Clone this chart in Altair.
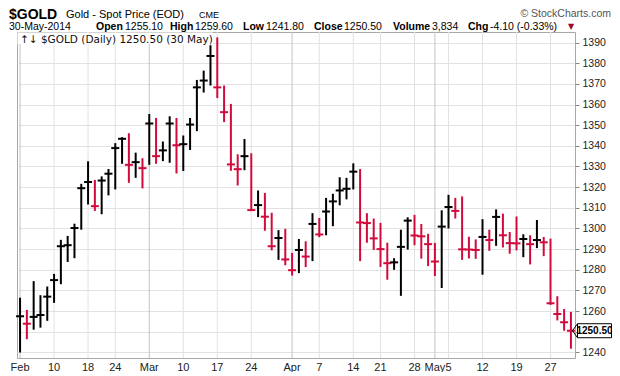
import altair as alt
import pandas as pd

# ---------------- data ----------------
holidays = ["2014-02-17", "2014-04-18", "2014-05-26"]
dates = [d for d in pd.bdate_range("2014-02-03", "2014-05-30").strftime("%Y-%m-%d") if d not in holidays]

highs = [1266.5, 1260.6, 1274.5, 1267.7, 1271.9, 1278.0, 1294.5, 1296.4, 1302.3, 1321.6,
         1332.5, 1323.5, 1325.2, 1328.8, 1341.3, 1344.2, 1346.1, 1336.7, 1334.0, 1355.4,
         1353.5, 1342.1, 1354.3, 1353.5, 1345.0, 1353.5, 1371.9, 1376.4, 1388.7, 1392.5,
         1369.2, 1360.3, 1335.9, 1343.3, 1336.4, 1318.4, 1317.2, 1307.6, 1299.2, 1299.8,
         1288.2, 1294.9, 1293.8, 1307.4, 1305.1, 1314.8, 1316.8, 1324.8, 1324.5, 1331.5,
         1328.8, 1307.4, 1304.8, 1302.7, 1293.1, 1285.6, 1299.4, 1305.4, 1306.6, 1302.2,
         1297.4, 1293.0, 1308.8, 1316.3, 1314.8, 1315.5, 1296.0, 1294.7, 1304.5, 1299.4,
         1309.2, 1307.2, 1298.3, 1305.8, 1297.2, 1296.7, 1304.1, 1295.9, 1295.1, 1267.2,
         1261.0, 1259.6]
lows = [1240.0, 1246.4, 1251.0, 1252.0, 1255.3, 1264.0, 1273.0, 1283.8, 1285.6, 1299.4,
        1311.6, 1308.5, 1306.9, 1316.0, 1318.9, 1331.3, 1322.1, 1324.5, 1319.4, 1330.8,
        1331.3, 1332.6, 1331.8, 1326.6, 1327.8, 1338.0, 1347.1, 1365.8, 1369.2, 1363.1,
        1351.5, 1327.9, 1320.8, 1328.2, 1308.4, 1305.5, 1298.9, 1289.4, 1284.8, 1282.2,
        1277.2, 1278.4, 1281.3, 1284.2, 1295.8, 1296.7, 1301.1, 1311.2, 1314.1, 1318.9,
        1284.2, 1293.1, 1289.6, 1281.4, 1275.2, 1280.0, 1267.4, 1289.8, 1291.9, 1285.4,
        1281.8, 1277.0, 1271.2, 1300.0, 1304.8, 1284.8, 1285.5, 1285.3, 1277.6, 1289.2,
        1291.6, 1290.8, 1287.8, 1289.4, 1286.1, 1282.6, 1290.5, 1286.6, 1263.0, 1255.5,
        1250.5, 1241.8]
closes = [1257.5, 1253.9, 1257.2, 1258.1, 1267.0, 1275.0, 1291.4, 1291.9, 1300.2, 1319.5,
          1322.5, 1310.8, 1323.2, 1326.5, 1338.9, 1343.4, 1330.8, 1332.1, 1329.2, 1350.8,
          1335.0, 1337.8, 1350.8, 1340.3, 1340.8, 1350.3, 1368.3, 1371.6, 1383.5, 1368.3,
          1356.3, 1331.0, 1328.7, 1335.0, 1308.9, 1311.3, 1305.7, 1291.4, 1295.4, 1285.0,
          1279.8, 1289.6, 1286.4, 1302.2, 1297.1, 1308.2, 1313.1, 1318.4, 1319.2, 1327.5,
          1302.9, 1302.6, 1295.2, 1290.0, 1283.2, 1283.6, 1291.1, 1303.8, 1296.6, 1296.2,
          1292.4, 1284.0, 1300.9, 1310.4, 1308.5, 1289.9, 1289.8, 1289.6, 1295.9, 1294.4,
          1305.6, 1296.7, 1292.9, 1292.8, 1294.9, 1292.4, 1294.4, 1293.3, 1263.8, 1258.6,
          1254.6, 1250.5]

tick_dates = ["2014-02-03", "2014-02-10", "2014-02-18", "2014-02-24", "2014-03-03", "2014-03-10",
              "2014-03-17", "2014-03-24", "2014-04-01", "2014-04-07", "2014-04-14", "2014-04-21",
              "2014-04-28", "2014-05-01", "2014-05-05", "2014-05-12", "2014-05-19", "2014-05-27"]
tick_labels = ["Feb", "10", "18", "24", "Mar", "10", "17", "24", "Apr", "7", "14", "21",
               "28", "May", "5", "12", "19", "27"]
month_labels = ["Feb", "Mar", "Apr", "May"]
y_ticks = list(range(1240, 1391, 10))

header_labels = ["Open", "High", "Low", "Close", "Volume", "Chg"]
header_values = ["1255.10", "1259.60", "1241.80", "1250.50", "3,834", "-4.10 (-0.33%)"]
last_date = "30-May-2014"
last_close = "1250.50"

# ---------------- frames ----------------
df = pd.DataFrame({"i": range(len(dates)), "date": dates, "high": highs, "low": lows, "close": closes})
prev = [None] + closes[:-1]
df["dir"] = ["up" if p is None or c >= p else "down" for c, p in zip(closes, prev)]

tdf = pd.DataFrame({"i": [dates.index(d) for d in tick_dates], "label": tick_labels})
tdf["kind"] = ["month" if l in month_labels else "week" for l in tick_labels]

W, H = 558, 326
RED = "#d20a3c"
FONT = "Liberation Sans"
xs = alt.Scale(domain=[-0.45, 81.6], nice=False, zero=False)
ys = alt.Scale(domain=[1237.3, 1395.1], nice=False, zero=False)
# the 1250 label sits under the last-price tag, as in the original
yaxis = alt.Axis(orient="right", values=y_ticks, grid=True, format="d", labelOverlap=False,
                 labelExpr="datum.value == 1250 ? '' : datum.label",
                 gridColor="#e2e2e2", tickSize=4, tickColor="#888", domain=False,
                 labelFont=FONT, labelFontSize=10.5, labelColor="#222", labelPadding=3, title=None)

week_grid = alt.Chart(tdf).transform_filter("datum.kind == 'week'").mark_rule(
    color="#e2e2e2", strokeWidth=1).encode(x=alt.X("i:Q", scale=xs, axis=None))
month_grid = alt.Chart(tdf).transform_filter("datum.kind == 'month'").mark_rule(
    color="#c4c4c4", strokeWidth=1).encode(x=alt.X("i:Q", scale=xs, axis=None))

xlabels = alt.Chart(tdf).mark_text(font=FONT, fontSize=11, color="#222", baseline="alphabetic",
                                   align="center").encode(
    x=alt.X("i:Q", scale=xs, axis=None), y=alt.value(H + 13), text="label:N")

color = alt.Color("dir:N", scale=alt.Scale(domain=["up", "down"], range=["#000000", RED]), legend=None)

bars = alt.Chart(df).mark_rule(strokeWidth=2).encode(
    x=alt.X("i:Q", scale=xs, axis=None),
    y=alt.Y("low:Q", scale=ys, axis=yaxis),
    y2="high:Q", color=color)

close_ticks = alt.Chart(df).mark_rule(strokeWidth=2, xOffset=-4, x2Offset=4).encode(
    x=alt.X("i:Q", scale=xs, axis=None), x2="i:Q",
    y=alt.Y("close:Q", scale=ys, axis=yaxis), color=color)

# legend box inside plot
legend_bg = alt.Chart(pd.DataFrame({"k": [0]})).mark_rect(fill="white").encode(
    x=alt.value(0.5), x2=alt.value(196), y=alt.value(0.5), y2=alt.value(12))
legend_txt = alt.Chart(pd.DataFrame({"t": [f"\u2191\u2193 $GOLD (Daily) {last_close} (30 May)"]})).mark_text(
    font="DejaVu Sans", fontSize=10.5, color="#111", align="left", baseline="alphabetic").encode(
    x=alt.value(3), y=alt.value(10.5), text="t:N")

# header row 1
title_big = alt.Chart(pd.DataFrame({"t": ["$GOLD"]})).mark_text(
    font=FONT, fontSize=14, fontWeight="bold", color="#000", align="left", baseline="alphabetic").encode(
    x=alt.value(-8), y=alt.value(-13.5), text="t:N")
title_sub = alt.Chart(pd.DataFrame({"t": ["Gold - Spot Price (EOD)"]})).mark_text(
    font=FONT, fontSize=11, color="#000", align="left", baseline="alphabetic").encode(
    x=alt.value(49), y=alt.value(-14), text="t:N")
title_ex = alt.Chart(pd.DataFrame({"t": ["CME"]})).mark_text(
    font=FONT, fontSize=9, color="#000", align="left", baseline="alphabetic").encode(
    x=alt.value(182), y=alt.value(-14), text="t:N")
credit = alt.Chart(pd.DataFrame({"t": ["\u00a9 StockCharts.com"]})).mark_text(
    font=FONT, fontSize=10.5, color="#555", align="right", baseline="alphabetic").encode(
    x=alt.value(594), y=alt.value(-15), text="t:N")

# header row 2
lab_x = [79, 153, 226, 297, 376, 451]
val_x = [108, 178, 249, 327, 415, 473]
row2_lab = pd.DataFrame({"t": header_labels, "px": lab_x})
row2_val = pd.DataFrame({"t": [last_date] + header_values, "px": [-8] + val_x})
r2_bold = alt.Chart(row2_lab).mark_text(font=FONT, fontSize=10.5, fontWeight="bold", color="#000",
                                        align="left", baseline="alphabetic").encode(
    x=alt.X("px:Q", scale=None), y=alt.value(-2.5), text="t:N")
r2_norm = alt.Chart(row2_val).mark_text(font=FONT, fontSize=10.5, color="#000",
                                        align="left", baseline="alphabetic").encode(
    x=alt.X("px:Q", scale=None), y=alt.value(-2.5), text="t:N")
tri = alt.Chart(pd.DataFrame({"t": ["\u25bc"]})).mark_text(
    font="DejaVu Sans", fontSize=8, color="#990a2c", align="center", baseline="alphabetic").encode(
    x=alt.value(554), y=alt.value(-3.5), text="t:N")

# last price tag
last_df = df.tail(1).copy()
last_df["lbl"] = last_close
tag_box = alt.Chart(last_df).mark_rect(fill="white", stroke="#000", strokeWidth=1,
                                      yOffset=-7, y2Offset=7).encode(
    x=alt.value(560.5), x2=alt.value(594.5), y=alt.Y("close:Q", scale=ys, axis=yaxis), y2="close:Q")
tag_tip1 = alt.Chart(last_df).mark_rule(color="#000", strokeWidth=1, yOffset=-7).encode(
    x=alt.value(560.5), x2=alt.value(555.5), y=alt.Y("close:Q", scale=ys, axis=yaxis), y2="close:Q")
tag_tip2 = alt.Chart(last_df).mark_rule(color="#000", strokeWidth=1, yOffset=7).encode(
    x=alt.value(560.5), x2=alt.value(555.5), y=alt.Y("close:Q", scale=ys, axis=yaxis), y2="close:Q")
tag_txt = alt.Chart(last_df).mark_text(font=FONT, fontSize=10, fontWeight="bold", color="#000",
                                       align="center", baseline="middle").encode(
    x=alt.value(577.5), y=alt.Y("close:Q", scale=ys, axis=yaxis), text="lbl:N")

chart = alt.layer(
    week_grid, month_grid, bars, close_ticks, legend_bg, legend_txt, xlabels,
    title_big, title_sub, title_ex, credit, r2_bold, r2_norm, tri,
    tag_tip1, tag_tip2, tag_box, tag_txt
).properties(
    width=W, height=H,
    autosize=alt.AutoSizeParams(type="none"),
    padding={"left": 9, "top": 24, "right": 37, "bottom": 14},
    background="white"
).configure_view(stroke="#a8a8a8", strokeWidth=1)

chart.save("out.html", embed_options={"renderer": "svg", "actions": False})
